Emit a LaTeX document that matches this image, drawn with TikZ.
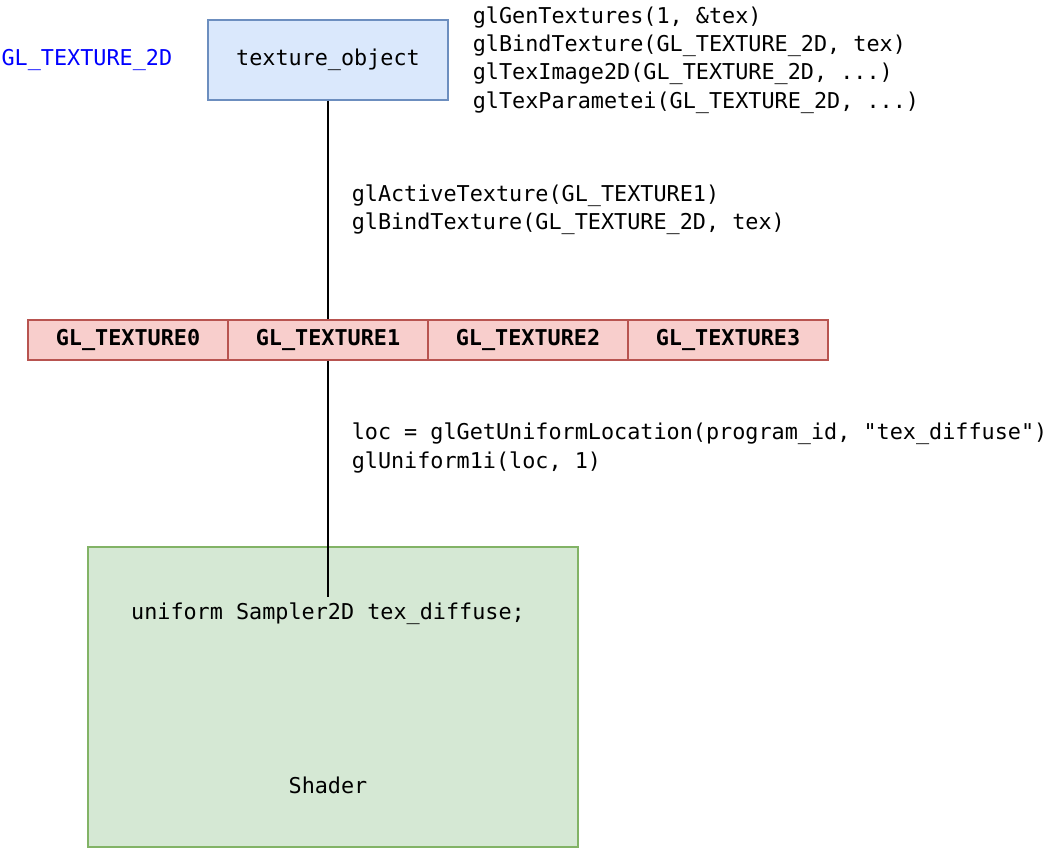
\documentclass[tikz,border=0pt]{standalone}
\usepackage{fontspec}
\setmonofont{DejaVu Sans Mono}
\usetikzlibrary{positioning}
\definecolor{objfill}{HTML}{DAE8FC}
\definecolor{objdraw}{HTML}{6C8EBF}
\definecolor{unitfill}{HTML}{F8CECC}
\definecolor{unitdraw}{HTML}{B85450}
\definecolor{shadfill}{HTML}{D5E8D4}
\definecolor{shaddraw}{HTML}{82B366}
\newcommand{\codesize}{\ttfamily\fontsize{21.8}{28.3}\selectfont}

\begin{document}
\begin{tikzpicture}[x=1pt,y=-1pt,
	code/.style={font=\codesize, align=left, inner sep=0pt},
	obj/.style={draw=objdraw, fill=objfill, line width=1.3pt,
		minimum width=240pt, minimum height=80pt, font=\codesize},
	unit/.style={draw=unitdraw, fill=unitfill, line width=1.3pt,
		minimum width=200pt, minimum height=40pt, font=\codesize\bfseries},
	wire/.style={line width=1.5pt}]
	\useasboundingbox (0,0) rectangle (1050,858);
	\node[draw=shaddraw, fill=shadfill, line width=1.3pt,
		minimum width=490pt, minimum height=300pt] (shader) at (333,697) {};
	\node[obj] (texobj) at (328,60) {texture\_object};
	\node[code, text=blue, left=35pt of texobj] (target) {GL\_TEXTURE\_2D};
	\node[code, right=24pt of texobj] (setup) {glGenTextures(1, \&tex)\\
		glBindTexture(GL\_TEXTURE\_2D, tex)\\
		glTexImage2D(GL\_TEXTURE\_2D, ...)\\
		glTexParametei(GL\_TEXTURE\_2D, ...)};
	\foreach \i in {0,...,3}
		\node[unit] (tu\i) at (128+200*\i,340) {GL\_TEXTURE\i};
	\node[code, inner ysep=6pt] (unif) at (328,614) {uniform Sampler2D tex\_diffuse;};
	\node[code] (name) at (328,785) {Shader};
	\draw[wire] (texobj) -- node[code, anchor=west, xshift=23pt] (bind)
		{glActiveTexture(GL\_TEXTURE1)\\glBindTexture(GL\_TEXTURE\_2D, tex)} (tu1);
	\draw[wire] (tu1) -- node[code, anchor=west, xshift=23pt, pos=0.37] (loc)
		{loc = glGetUniformLocation(program\_id, "tex\_diffuse")\\glUniform1i(loc, 1)} (unif.north);
\end{tikzpicture}
\end{document}
